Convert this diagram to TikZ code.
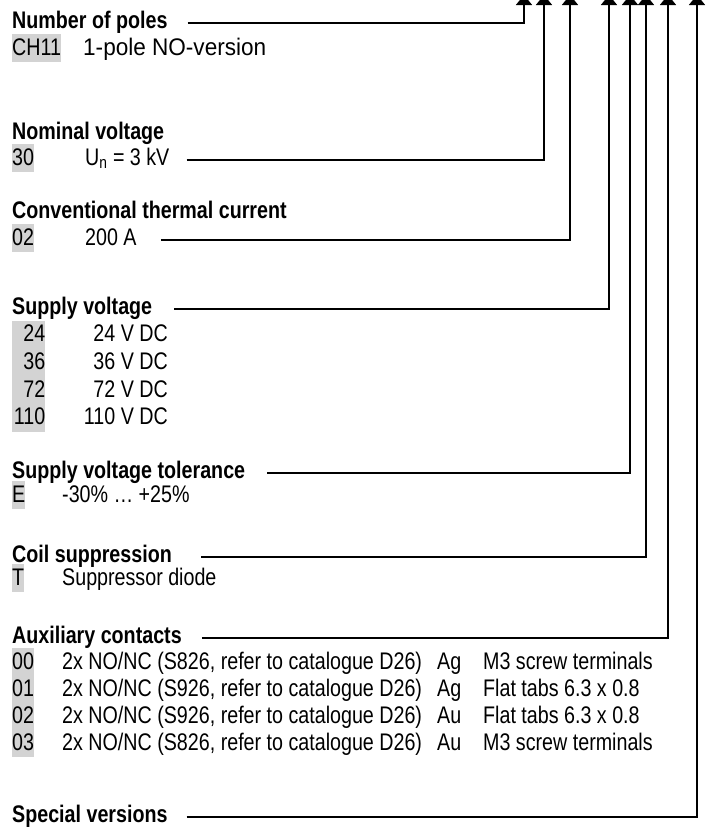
\documentclass[tikz,border=0pt]{standalone}
\usepackage{fontspec}
\setmainfont{Liberation Sans}[FakeStretch=0.82]
\newfontfamily\widefont{Liberation Sans}[FakeStretch=0.94]
\usetikzlibrary{arrows.meta}
\definecolor{codegray}{RGB}{211,211,211}

\begin{document}
\begin{tikzpicture}[x=1pt, y=-1pt,
	every node/.style={inner sep=0pt, anchor=base west, font=\fontsize{24}{28}\selectfont},
	head/.style={font=\fontsize{24}{28}\selectfont\bfseries, text height=17pt, text depth=7pt},
	item/.style={text height=17pt, text depth=7pt},
	code/.style={fill=codegray, text height=21pt, text depth=7pt},
	feed/.style={line width=1.6pt, shorten <=20pt, -{Triangle[length=10pt, width=16pt]}}]
	\useasboundingbox (0,0) rectangle (708,828);
	\clip (0,0) rectangle (708,828);
		\node[head] (pol) at (12,28) {Number of poles};
		\node[code] (pol0) at (12,55) {CH11};
		\node[item, font=\fontsize{24}{28}\widefont] (pol0t) at (83,55) {1-pole NO-version};
		\node[head] (nom) at (12,139) {Nominal voltage};
		\node[code] (nom0) at (12,165) {30};
		\node[item] (nom0t) at (85,165) {U\textsubscript{n} = 3 kV};
		\node[head] (cur) at (12,218) {Conventional thermal current};
		\node[code] (cur0) at (12,245) {02};
		\node[item] (cur0t) at (85,245) {200 A};
		\node[head] (sup) at (12,314) {Supply voltage};
		\foreach \v [count=\i] in {24,36,72,110} {
			\node[code, text width=33pt, align=right] (sup\i) at (12,{314+27.7*\i}) {\v};
			\node[item, anchor=base east] (supt\i) at (168,{314+27.7*\i}) {\v\ V DC};
		}
		\node[head] (tol) at (12,478) {Supply voltage tolerance};
		\node[code] (tol0) at (12,502) {E};
		\node[item] (tol0t) at (62,502) {-30\% … +25\%};
		\node[head] (coil) at (12,562) {Coil suppression};
		\node[code] (coil0) at (12,585) {T};
		\node[item] (coil0t) at (62,585) {Suppressor diode};
		\node[head] (aux) at (12,643) {Auxiliary contacts};
		\foreach \c/\s/\m/\t [count=\i] in {00/8/Ag/M3 screw terminals, 01/9/Ag/Flat tabs 6.3 x 0.8,
				02/9/Au/Flat tabs 6.3 x 0.8, 03/8/Au/M3 screw terminals} {
			\node[code] (aux\i) at (12,{642+27*\i}) {\c};
			\node[item] (auxa\i) at (62,{642+27*\i}) {2x NO/NC (S\s26, refer to catalogue D26)};
			\node[item] (auxb\i) at (437,{642+27*\i}) {\m};
			\node[item] (auxc\i) at (483,{642+27*\i}) {\t};
		}
		\node[head] (spec) at (12,822) {Special versions};
	% arrow ends above the top edge
		\foreach \n/\x in {pol/524, nom/544, cur/570, sup/609, tol/630, coil/646, aux/668, spec/697}
			\coordinate (\n-top) at (\x,-5);
		\draw[feed] (pol.east) -| (pol-top);
		\draw[feed, shorten <=17pt] (nom0t.east) -| (nom-top);
		\draw[feed, shorten <=24pt] (cur0t.east) -| (cur-top);
		\draw[feed, shorten <=22pt] (sup.east) -| (sup-top);
		\draw[feed, shorten <=22pt] (tol.east) -| (tol-top);
		\draw[feed, shorten <=29pt] (coil.east) -| (coil-top);
		\draw[feed] (aux.east) -| (aux-top);
		\draw[feed, shorten <=19pt] (spec.east) -| (spec-top);
\end{tikzpicture}
\end{document}
